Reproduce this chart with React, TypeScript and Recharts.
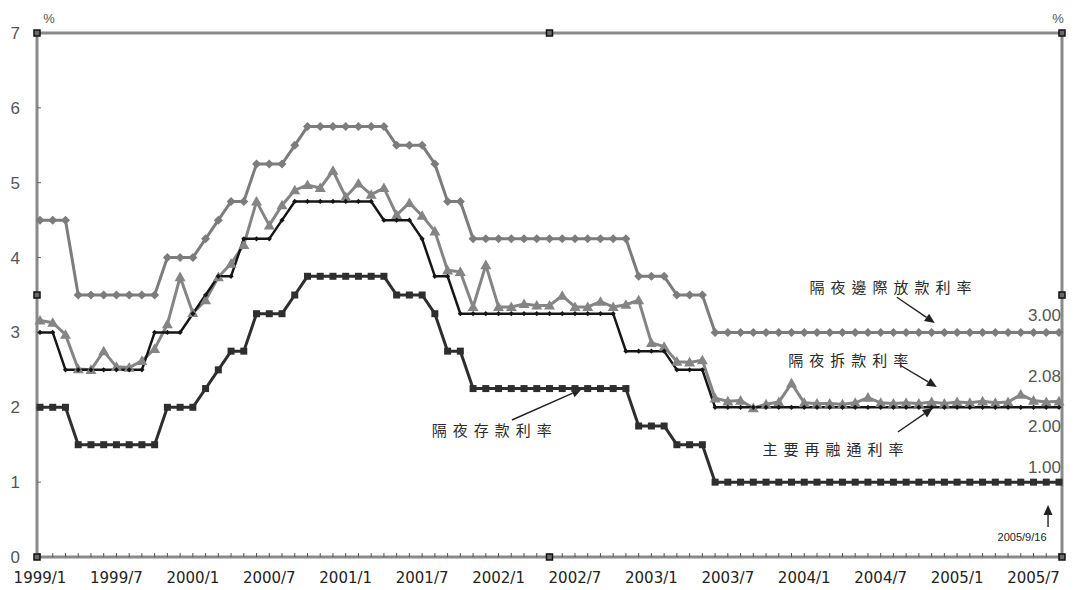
import React from 'react';
import { LineChart, Line, XAxis, YAxis, ReferenceLine, ReferenceDot } from 'recharts';

// Month categories, 1999/1 – 2005/9
const months = [
  '1999/1', '1999/2', '1999/3', '1999/4', '1999/5', '1999/6', '1999/7', '1999/8', '1999/9', '1999/10', '1999/11', '1999/12',
  '2000/1', '2000/2', '2000/3', '2000/4', '2000/5', '2000/6', '2000/7', '2000/8', '2000/9', '2000/10', '2000/11', '2000/12',
  '2001/1', '2001/2', '2001/3', '2001/4', '2001/5', '2001/6', '2001/7', '2001/8', '2001/9', '2001/10', '2001/11', '2001/12',
  '2002/1', '2002/2', '2002/3', '2002/4', '2002/5', '2002/6', '2002/7', '2002/8', '2002/9', '2002/10', '2002/11', '2002/12',
  '2003/1', '2003/2', '2003/3', '2003/4', '2003/5', '2003/6', '2003/7', '2003/8', '2003/9', '2003/10', '2003/11', '2003/12',
  '2004/1', '2004/2', '2004/3', '2004/4', '2004/5', '2004/6', '2004/7', '2004/8', '2004/9', '2004/10', '2004/11', '2004/12',
  '2005/1', '2005/2', '2005/3', '2005/4', '2005/5', '2005/6', '2005/7', '2005/8', '2005/9',
];

// 隔夜邊際放款利率 (%)
const marginalRate = [
  4.5, 4.5, 4.5, 3.5, 3.5, 3.5, 3.5, 3.5, 3.5, 3.5, 4.0, 4.0,
  4.0, 4.25, 4.5, 4.75, 4.75, 5.25, 5.25, 5.25, 5.5, 5.75, 5.75, 5.75,
  5.75, 5.75, 5.75, 5.75, 5.5, 5.5, 5.5, 5.25, 4.75, 4.75, 4.25, 4.25,
  4.25, 4.25, 4.25, 4.25, 4.25, 4.25, 4.25, 4.25, 4.25, 4.25, 4.25, 3.75,
  3.75, 3.75, 3.5, 3.5, 3.5, 3.0, 3.0, 3.0, 3.0, 3.0, 3.0, 3.0,
  3.0, 3.0, 3.0, 3.0, 3.0, 3.0, 3.0, 3.0, 3.0, 3.0, 3.0, 3.0,
  3.0, 3.0, 3.0, 3.0, 3.0, 3.0, 3.0, 3.0, 3.0,
];

// 隔夜拆款利率 (%)
const interbankRate = [
  3.16, 3.13, 2.97, 2.51, 2.50, 2.75, 2.54, 2.53, 2.62, 2.78, 3.11, 3.74,
  3.26, 3.43, 3.74, 3.92, 4.17, 4.75, 4.43, 4.70, 4.90, 4.97, 4.93, 5.16,
  4.81, 4.99, 4.84, 4.93, 4.57, 4.73, 4.56, 4.35, 3.83, 3.81, 3.34, 3.90,
  3.34, 3.34, 3.38, 3.36, 3.36, 3.49, 3.34, 3.34, 3.41, 3.34, 3.37, 3.43,
  2.86, 2.81, 2.61, 2.60, 2.63, 2.12, 2.08, 2.09, 1.99, 2.04, 2.07, 2.32,
  2.06, 2.05, 2.05, 2.04, 2.06, 2.13, 2.06, 2.05, 2.06, 2.05, 2.07, 2.05,
  2.07, 2.06, 2.08, 2.06, 2.07, 2.17, 2.09, 2.07, 2.08,
];

// 主要再融通利率 (%)
const refiRate = [
  3.0, 3.0, 2.5, 2.5, 2.5, 2.5, 2.5, 2.5, 2.5, 3.0, 3.0, 3.0,
  3.25, 3.5, 3.75, 3.75, 4.25, 4.25, 4.25, 4.5, 4.75, 4.75, 4.75, 4.75,
  4.75, 4.75, 4.75, 4.5, 4.5, 4.5, 4.25, 3.75, 3.75, 3.25, 3.25, 3.25,
  3.25, 3.25, 3.25, 3.25, 3.25, 3.25, 3.25, 3.25, 3.25, 3.25, 2.75, 2.75,
  2.75, 2.75, 2.5, 2.5, 2.5, 2.0, 2.0, 2.0, 2.0, 2.0, 2.0, 2.0,
  2.0, 2.0, 2.0, 2.0, 2.0, 2.0, 2.0, 2.0, 2.0, 2.0, 2.0, 2.0,
  2.0, 2.0, 2.0, 2.0, 2.0, 2.0, 2.0, 2.0, 2.0,
];

// 隔夜存款利率 (%)
const depositRate = [
  2.0, 2.0, 2.0, 1.5, 1.5, 1.5, 1.5, 1.5, 1.5, 1.5, 2.0, 2.0,
  2.0, 2.25, 2.5, 2.75, 2.75, 3.25, 3.25, 3.25, 3.5, 3.75, 3.75, 3.75,
  3.75, 3.75, 3.75, 3.75, 3.5, 3.5, 3.5, 3.25, 2.75, 2.75, 2.25, 2.25,
  2.25, 2.25, 2.25, 2.25, 2.25, 2.25, 2.25, 2.25, 2.25, 2.25, 2.25, 1.75,
  1.75, 1.75, 1.5, 1.5, 1.5, 1.0, 1.0, 1.0, 1.0, 1.0, 1.0, 1.0,
  1.0, 1.0, 1.0, 1.0, 1.0, 1.0, 1.0, 1.0, 1.0, 1.0, 1.0, 1.0,
  1.0, 1.0, 1.0, 1.0, 1.0, 1.0, 1.0, 1.0, 1.0,
];

const yTicks = [0, 1, 2, 3, 4, 5, 6, 7];
const labelEvery = 6;

// Series name callouts (text centre in data units) and their arrows
const callouts = [
  { text: '隔夜邊際放款利率', x: 67.0, y: 3.61 },
  { text: '隔夜拆款利率', x: 63.7, y: 2.645 },
  { text: '主要再融通利率', x: 62.5, y: 1.443 },
  { text: '隔夜存款利率', x: 35.7, y: 1.697 },
];
const arrows = [
  { x1: 67.27, y1: 3.47, x2: 70.25, y2: 3.126 },
  { x1: 67.5, y1: 2.565, x2: 70.41, y2: 2.271 },
  { x1: 67.35, y1: 1.67, x2: 70.09, y2: 1.99 },
  { x1: 37.05, y1: 1.83, x2: 42.54, y2: 2.244 },
  { x1: 79.14, y1: 0.40, x2: 79.14, y2: 0.695 },
];
const dateNote = { text: '2005/9/16', x: 77.1, y: 0.267 };

const data = months.map((m, i) => ({
  i,
  month: m,
  marginal: marginalRate[i],
  interbank: interbankRate[i],
  refi: refiRate[i],
  deposit: depositRate[i],
}));

const last = months.length - 1;
const endLabels = [
  { value: marginalRate[last], dy: -17 },
  { value: interbankRate[last], dy: -25 },
  { value: refiRate[last], dy: 19 },
  { value: depositRate[last], dy: -15 },
];

const GRAY = '#7c7c7c';
const TRI_GRAY = '#858585';
const BLACK = '#161616';
const DEPOSIT = '#2e2e2e';
const AXIS = '#8a8a8a';

const diamondDot = (h: number, fill: string) => (p: any) => {
  if (p.cx == null || p.cy == null) return <g key={`dm-${p.index}`} />;
  const { cx, cy } = p;
  return (
    <polygon
      key={`dm-${fill}-${p.index}`}
      points={`${cx},${cy - h} ${cx + h},${cy} ${cx},${cy + h} ${cx - h},${cy}`}
      fill={fill}
    />
  );
};

const triangleDot = (h: number, fill: string) => (p: any) => {
  if (p.cx == null || p.cy == null) return <g key={`tr-${p.index}`} />;
  const { cx, cy } = p;
  return (
    <polygon
      key={`tr-${p.index}`}
      points={`${cx},${cy - h} ${cx + h},${cy + h * 0.75} ${cx - h},${cy + h * 0.75}`}
      fill={fill}
    />
  );
};

const squareDot = (h: number, fill: string) => (p: any) => {
  if (p.cx == null || p.cy == null) return <g key={`sq-${p.index}`} />;
  return <rect key={`sq-${p.index}`} x={p.cx - h} y={p.cy - h} width={h * 2} height={h * 2} fill={fill} />;
};

const arrowShape = (p: any) => {
  const { x1, y1, x2, y2 } = p;
  if ([x1, y1, x2, y2].some((v) => v == null || Number.isNaN(v))) return <g />;
  const ang = Math.atan2(y2 - y1, x2 - x1);
  const L = 10;
  const W = 4.5;
  const bx = x2 - L * Math.cos(ang);
  const by = y2 - L * Math.sin(ang);
  const s = Math.sin(ang);
  const c = Math.cos(ang);
  return (
    <g>
      <line x1={x1} y1={y1} x2={bx} y2={by} stroke="#222" strokeWidth={1.4} />
      <polygon points={`${x2},${y2} ${bx + W * s},${by - W * c} ${bx - W * s},${by + W * c}`} fill="#222" />
    </g>
  );
};

const textShape = (
  text: string,
  opts: { dx?: number; dy?: number; anchor?: 'start' | 'middle' | 'end'; size: number; color: string; family: string; spacing?: number }
) => (p: any) => (
  <text
    x={p.cx + (opts.dx || 0)}
    y={p.cy + (opts.dy || 0)}
    textAnchor={opts.anchor || 'middle'}
    dominantBaseline="central"
    fontSize={opts.size}
    fill={opts.color}
    fontFamily={opts.family}
    letterSpacing={opts.spacing || 0}
  >
    {text}
  </text>
);

const handleShape = (p: any) => (
  <rect x={p.cx - 3} y={p.cy - 3} width={6} height={6} fill="#6a6a6a" stroke="#111" strokeWidth={1.5} />
);

const CJK = '"Noto Sans CJK TC", "Noto Sans CJK SC", sans-serif';
const SANS = '"Liberation Sans", Arial, sans-serif';

// Padding between plot edge and first/last month, in data units (3px of 12.74px per month)
const edge = 3 / 12.74;
const handles = [
  { x: -edge, y: 7 }, { x: 40, y: 7 }, { x: last + edge, y: 7 },
  { x: -edge, y: 3.5 }, { x: last + edge, y: 3.5 },
  { x: -edge, y: 0 }, { x: 40, y: 0 }, { x: last + edge, y: 0 },
];

export default function App() {
  return (
    <div style={{ position: 'absolute', left: 0, top: 0, width: 1088, height: 590, background: '#fff' }}>
      <LineChart width={1088} height={590} data={data} margin={{ top: 33, right: 0, bottom: 0, left: 0 }}>
        <XAxis
          dataKey="i"
          type="number"
          domain={[0, last]}
          ticks={data.map((d) => d.i)}
          interval={0}
          padding={{ left: 3, right: 3 }}
          height={33}
          tickSize={-4}
          tickMargin={19}
          tickFormatter={(v: number) => (v % labelEvery === 0 ? months[v] : '')}
          tick={{ fontSize: 15, fill: '#222', fontFamily: '"DejaVu Sans", sans-serif' }}
          axisLine={{ stroke: AXIS, strokeWidth: 3 }}
          tickLine={{ stroke: '#555', strokeWidth: 1 }}
        />
        <YAxis
          yAxisId="left"
          domain={[0, 7]}
          ticks={yTicks}
          width={37}
          tickSize={-4}
          tickMargin={21}
          tick={{ fontSize: 17, fill: '#555', fontFamily: SANS }}
          axisLine={{ stroke: AXIS, strokeWidth: 3 }}
          tickLine={{ stroke: '#666', strokeWidth: 1 }}
        />
        <YAxis
          yAxisId="right"
          orientation="right"
          domain={[0, 7]}
          ticks={yTicks}
          width={26}
          tickSize={-4}
          tickMargin={14}
          tick={{ fontSize: 17, fill: '#555', fontFamily: SANS, textAnchor: 'start' }}
          axisLine={{ stroke: AXIS, strokeWidth: 3 }}
          tickLine={{ stroke: '#666', strokeWidth: 1 }}
        />

        <ReferenceLine yAxisId="left" y={7} stroke={AXIS} strokeWidth={3} ifOverflow="visible" />

        <Line
          yAxisId="left"
          dataKey="marginal"
          stroke={GRAY}
          strokeWidth={3}
          dot={diamondDot(4.5, GRAY)}
          isAnimationActive={false}
        />
        <Line
          yAxisId="left"
          dataKey="interbank"
          stroke={TRI_GRAY}
          strokeWidth={3}
          dot={triangleDot(5.5, TRI_GRAY)}
          isAnimationActive={false}
        />
        <Line
          yAxisId="left"
          dataKey="refi"
          stroke={BLACK}
          strokeWidth={2.5}
          dot={diamondDot(2.6, BLACK)}
          isAnimationActive={false}
        />
        <Line
          yAxisId="left"
          dataKey="deposit"
          stroke={DEPOSIT}
          strokeWidth={3}
          dot={squareDot(3.5, DEPOSIT)}
          isAnimationActive={false}
        />

        {arrows.map((a, k) => (
          <ReferenceLine
            key={`ar-${k}`}
            yAxisId="left"
            segment={[{ x: a.x1, y: a.y1 }, { x: a.x2, y: a.y2 }]}
            ifOverflow="visible"
            shape={arrowShape}
          />
        ))}

        {callouts.map((c, k) => (
          <ReferenceDot
            key={`co-${k}`}
            yAxisId="left"
            x={c.x}
            y={c.y}
            r={0}
            ifOverflow="visible"
            shape={textShape(c.text, { size: 15, color: '#2a2a2a', family: CJK, spacing: 6 })}
          />
        ))}

        <ReferenceDot
          yAxisId="left"
          x={dateNote.x}
          y={dateNote.y}
          r={0}
          ifOverflow="visible"
          shape={textShape(dateNote.text, { size: 11, color: '#222', family: SANS })}
        />

        {endLabels.map((e, k) => (
          <ReferenceDot
            key={`el-${k}`}
            yAxisId="left"
            x={last}
            y={e.value}
            r={0}
            ifOverflow="visible"
            shape={textShape(e.value.toFixed(2), { dx: 2, dy: e.dy, anchor: 'end', size: 17, color: '#555', family: SANS })}
          />
        ))}

        <ReferenceDot
          yAxisId="left"
          x={0}
          y={7}
          r={0}
          ifOverflow="visible"
          shape={textShape('%', { dx: 9, dy: -15, size: 13, color: '#555', family: SANS })}
        />
        <ReferenceDot
          yAxisId="left"
          x={last}
          y={7}
          r={0}
          ifOverflow="visible"
          shape={textShape('%', { dx: -1, dy: -15, size: 13, color: '#555', family: SANS })}
        />

        {handles.map((h, k) => (
          <ReferenceDot key={`hd-${k}`} yAxisId="left" x={h.x} y={h.y} r={0} ifOverflow="visible" shape={handleShape} />
        ))}
      </LineChart>
    </div>
  );
}
